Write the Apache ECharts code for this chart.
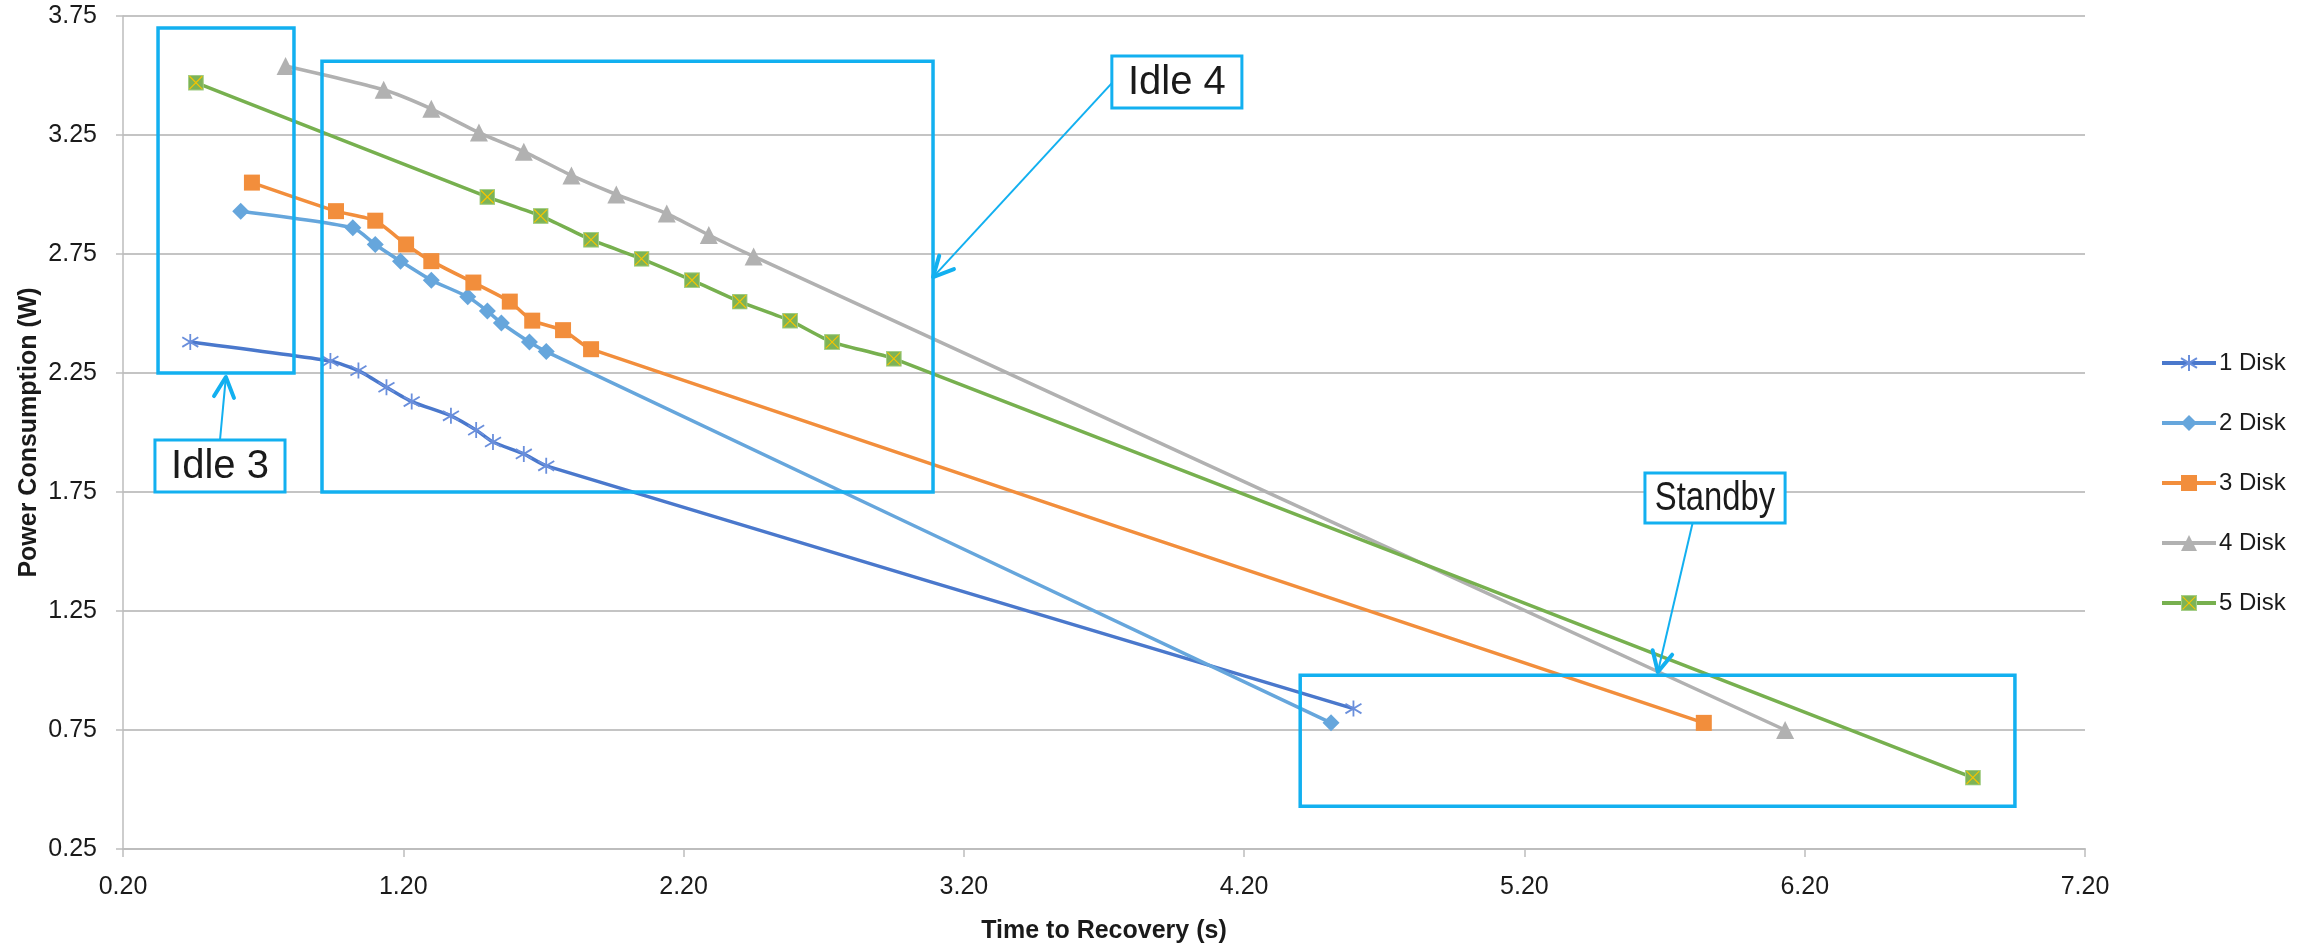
<!DOCTYPE html>
<html>
<head>
<meta charset="utf-8">
<title>Power vs Recovery</title>
<script src="https://cdn.jsdelivr.net/npm/echarts@6/dist/echarts.min.js"></script>
<style>
  html, body { margin: 0; padding: 0; background: #fff; }
  .chart { width: 2318px; height: 946px; }
</style>
</head>
<body>
<div class="chart"></div>
<script>
// 数据：[恢复时间(s), 功耗(W)]
const disk1 = [[0.44, 2.38], [0.94, 2.30], [1.04, 2.26], [1.14, 2.19], [1.23, 2.13], [1.37, 2.07], [1.46, 2.01], [1.52, 1.96], [1.63, 1.91], [1.71, 1.86], [4.59, 0.84]]
const disk2 = [[0.62, 2.93], [1.02, 2.86], [1.10, 2.79], [1.19, 2.72], [1.30, 2.64], [1.43, 2.57], [1.50, 2.51], [1.55, 2.46], [1.65, 2.38], [1.71, 2.34], [4.51, 0.78]]
const disk3 = [[0.66, 3.05], [0.96, 2.93], [1.10, 2.89], [1.21, 2.79], [1.30, 2.72], [1.45, 2.63], [1.58, 2.55], [1.66, 2.47], [1.77, 2.43], [1.87, 2.35], [5.84, 0.78]]
const disk4 = [[0.78, 3.54], [1.13, 3.44], [1.30, 3.36], [1.47, 3.26], [1.63, 3.18], [1.80, 3.08], [1.96, 3.00], [2.14, 2.92], [2.29, 2.83], [2.45, 2.74], [6.13, 0.75]]
const disk5 = [[0.46, 3.47], [1.50, 2.99], [1.69, 2.91], [1.87, 2.81], [2.05, 2.73], [2.23, 2.64], [2.40, 2.55], [2.58, 2.47], [2.73, 2.38], [2.95, 2.31], [6.80, 0.55]]
const seriesNames = ['1 Disk', '2 Disk', '3 Disk', '4 Disk', '5 Disk']

// 标注框（数据坐标）
const zones = [
  { x: [0.325, 0.81], y: [2.25, 3.70] },
  { x: [0.91, 3.09], y: [1.75, 3.56] },
  { x: [4.40, 6.95], y: [0.43, 0.98] },
]
// 文字框 + 箭头（数据坐标）
const callouts = [
  { text: 'Idle 3', x: [0.314, 0.778], y: [1.75, 1.968], from: [0.546, 1.968], to: [0.567, 2.233], scaleX: 1 },
  { text: 'Idle 4', x: [3.728, 4.192], y: [3.363, 3.582], from: [3.728, 3.468], to: [3.09, 2.653], scaleX: 1 },
  { text: 'Standby', x: [5.63, 6.13], y: [1.62, 1.83], from: [5.80, 1.62], to: [5.676, 0.994], scaleX: 0.82 },
]

const blue = '#12b0f0'
const font = '"Liberation Sans", Arial, sans-serif'

// 星号标记
const starSymbol = 'path://M5 0L5 10M0 2L10 8M0 8L10 2'
// 绿色方块 + 黄色叉
const boxXSymbol = 'image://data:image/svg+xml;utf8,' + encodeURIComponent(
  '<svg xmlns="http://www.w3.org/2000/svg" width="30" height="30" viewBox="0 0 30 30">' +
  '<rect x="1" y="1" width="28" height="28" fill="#7db356" stroke="#a6cf8a" stroke-width="2"/>' +
  '<path d="M3 3L27 27M27 3L3 27" stroke="#f5c400" stroke-width="2.2"/></svg>'
)

function lineSeries(name, data, color, markerColor, symbol, size) {
  return {
    name: name,
    type: 'line',
    data: data,
    smooth: 0.2,
    symbol: symbol,
    symbolSize: size,
    lineStyle: { color: color, width: 3.5 },
    itemStyle: {
      color: markerColor,
      borderColor: markerColor,
      borderWidth: symbol === starSymbol ? 1.8 : 0,
    },
    emphasis: { disabled: true },
  }
}

const option = {
  animation: false,
  backgroundColor: '#fff',
  grid: { left: 123, right: 233, top: 16, bottom: 97, outerBoundsMode: 'none', containLabel: false },
  // 图例
  legend: {
    orient: 'vertical',
    left: 2155,
    top: 346,
    itemWidth: 54,
    itemHeight: 20,
    itemGap: 36,
    lineStyle: { width: 4 },
    textStyle: { fontFamily: font, fontSize: 24, color: '#1a1a1a', padding: [0, 0, 0, -2] },
    data: seriesNames,
  },
  xAxis: {
    type: 'value',
    min: 0.2,
    max: 7.2,
    interval: 1,
    name: 'Time to Recovery (s)',
    nameLocation: 'middle',
    nameGap: 70,
    nameMoveOverlap: false,
    nameTextStyle: { fontFamily: font, fontSize: 25, fontWeight: 'bold', color: '#1a1a1a' },
    axisLine: { show: true, lineStyle: { color: '#bdbdbd', width: 2 } },
    axisTick: { show: true, length: 8, lineStyle: { color: '#bdbdbd', width: 1.5 } },
    axisLabel: {
      margin: 26,
      fontFamily: font,
      fontSize: 25,
      color: '#1a1a1a',
      formatter: (v) => v.toFixed(2),
    },
    splitLine: { show: false },
  },
  yAxis: {
    type: 'value',
    min: 0.25,
    max: 3.75,
    interval: 0.5,
    name: 'Power Consumption (W)',
    nameLocation: 'middle',
    nameGap: 81,
    nameMoveOverlap: false,
    nameTextStyle: { fontFamily: font, fontSize: 25, fontWeight: 'bold', color: '#1a1a1a' },
    axisLine: { show: true, lineStyle: { color: '#bdbdbd', width: 1.5 } },
    axisTick: { show: true, length: 7, lineStyle: { color: '#bdbdbd', width: 1.5 } },
    axisLabel: {
      margin: 26,
      fontFamily: font,
      fontSize: 25,
      color: '#1a1a1a',
      formatter: (v) => v.toFixed(2),
    },
    splitLine: { show: true, lineStyle: { color: '#b0b0b0', width: 1.6 } },
  },
  series: [
    lineSeries('1 Disk', disk1, '#4a78cc', '#6a8fdc', starSymbol, 16),
    lineSeries('2 Disk', disk2, '#66a6dc', '#66a6dc', 'diamond', 17),
    lineSeries('3 Disk', disk3, '#f28e3c', '#f28e3c', 'rect', 16),
    lineSeries('4 Disk', disk4, '#b1b1b1', '#b1b1b1', 'triangle', 18),
    lineSeries('5 Disk', disk5, '#77b04f', '#77b04f', boxXSymbol, 16),
  ],
}

const chart = echarts.init(document.querySelector('.chart'))
chart.setOption(option)

// 标注：蓝色框、文字框、箭头
function px(p) {
  return chart.convertToPixel({ gridIndex: 0 }, p)
}
function rectOf(x, y) {
  const a = px([x[0], y[1]])
  const b = px([x[1], y[0]])
  return { x: a[0], y: a[1], width: b[0] - a[0], height: b[1] - a[1] }
}
function arrow(from, to) {
  const f = px(from)
  const t = px(to)
  const dx = t[0] - f[0]
  const dy = t[1] - f[1]
  const len = Math.hypot(dx, dy)
  const ux = dx / len
  const uy = dy / len
  const L = 20
  const W = 0.5
  const p1 = [t[0] - L * ux - L * W * uy, t[1] - L * uy + L * W * ux]
  const p2 = [t[0] - L * ux + L * W * uy, t[1] - L * uy - L * W * ux]
  return [
    { type: 'line', z: 100, shape: { x1: f[0], y1: f[1], x2: t[0], y2: t[1] }, style: { stroke: blue, lineWidth: 2 } },
    {
      type: 'polyline',
      z: 100,
      shape: { points: [p1, t, p2] },
      style: { stroke: blue, lineWidth: 4, fill: null, lineCap: 'round', lineJoin: 'round' },
    },
  ]
}

const graphics = []
zones.forEach((z) => {
  graphics.push({
    type: 'rect',
    z: 100,
    shape: rectOf(z.x, z.y),
    style: { fill: null, stroke: blue, lineWidth: 3.5 },
  })
})
callouts.forEach((c) => {
  arrow(c.from, c.to).forEach((g) => graphics.push(g))
  const r = rectOf(c.x, c.y)
  graphics.push({
    type: 'rect',
    z: 101,
    shape: r,
    style: { fill: '#fff', stroke: blue, lineWidth: 3 },
  })
  graphics.push({
    type: 'text',
    z: 102,
    x: r.x + r.width / 2,
    y: r.y + r.height / 2 + 1,
    scaleX: c.scaleX,
    style: {
      text: c.text,
      fontFamily: font,
      fontSize: 40,
      fill: '#1a1a1a',
      align: 'center',
      verticalAlign: 'middle',
    },
  })
})
chart.setOption({ graphic: graphics })
</script>
</body>
</html>
